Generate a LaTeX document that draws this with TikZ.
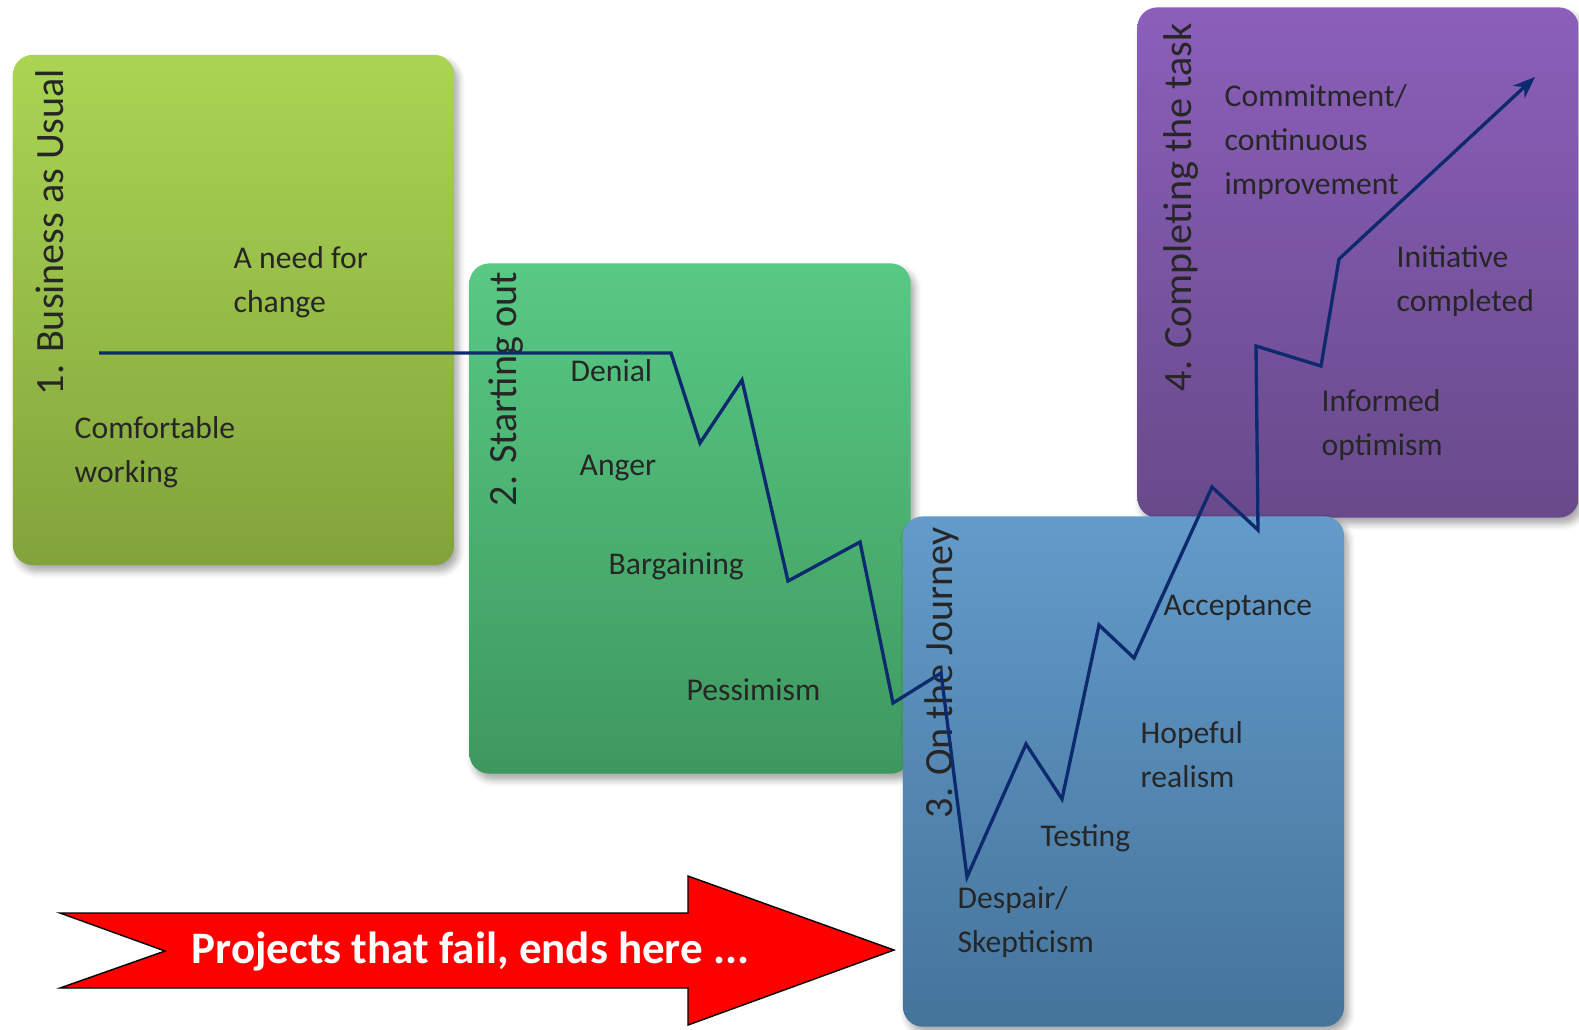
\documentclass[tikz,border=0pt]{standalone}
\usepackage{fontspec}
\setmainfont{Carlito}
\usetikzlibrary{arrows.meta,shadows.blur}
\definecolor{usualtop}{RGB}{170,213,83}
\definecolor{usualbot}{RGB}{130,163,60}
\definecolor{starttop}{RGB}{88,201,132}
\definecolor{startbot}{RGB}{62,152,94}
\definecolor{journeytop}{RGB}{99,155,202}
\definecolor{journeybot}{RGB}{69,116,155}
\definecolor{tasktop}{RGB}{139,95,186}
\definecolor{taskbot}{RGB}{104,74,139}
\definecolor{curveblue}{RGB}{14,42,110}
\definecolor{failred}{RGB}{255,0,0}
\tikzset{
phase/.style={
  rounded corners=0.2cm,
  minimum width=4.41cm,
  minimum height=5.1cm,
  inner sep=0pt,
  blur shadow={shadow xshift=0.04cm,shadow yshift=-0.06cm,shadow blur steps=6,shadow opacity=35}
  },
phases/.style 2 args={
  phase,
  top color=#1,
  bottom color=#2
  },
title/.style={
  rotate=90,
  anchor=base west,
  inner sep=0pt,
  text=black!85,
  font=\fontsize{11.4}{13}\selectfont
  },
mood/.style={
  anchor=base west,
  inner sep=0pt,
  align=left,
  text=black!85,
  font=\fontsize{9}{12.5}\selectfont
  }
}

\begin{document}
\begin{tikzpicture}[x=0.01cm,y=-0.01cm,>={Stealth[length=0.22cm,width=0.17cm]}]
  \useasboundingbox (0,0) rectangle (1579,1029);
  \tikzstyle{curve} = [draw=curveblue,line width=0.95pt]
  % the four stages
  \node[phases={usualtop}{usualbot}] (usual) at (233.5,310) {};
  \node[phases={starttop}{startbot}] (start) at (690,518.5) {};
  \node[phases={tasktop}{taskbot}] (task) at (1358,262.5) {};
  \node[phases={journeytop}{journeybot}] (journey) at (1123.5,771.5) {};
  % banner
  \fill[failred,draw=black,line width=0.4pt] (60,913) -- (688,913) -- (688,876) -- (894,950)
    -- (688,1025) -- (688,988) -- (60,988) -- (165,951) -- cycle;
  \node[anchor=base west,inner sep=0pt,text=white,font=\bfseries\fontsize{12.8}{14}\selectfont]
    (fail) at (191,963) {Projects that fail, ends here ...};
  % stage titles
  \node[title] (usualtitle) at (64,396) {1. Business as Usual};
  \node[title] (starttitle) at (516,507) {2. Starting out};
  \node[title] (journeytitle) at (952,819) {3. On the Journey};
  \node[title] (tasktitle) at (1191,392) {4. Completing the task};
  % moods (base = last line)
  \node[mood] (need) at (233,312) {A need for\\change};
  \node[mood] (comfort) at (74,482) {Comfortable\\working};
  \node[mood] (denial) at (570,381) {Denial};
  \node[mood] (anger) at (579,475) {Anger};
  \node[mood] (bargain) at (608,574) {Bargaining};
  \node[mood] (pessim) at (686,700) {Pessimism};
  \node[mood] (despair) at (957,952) {Despair/\\Skepticism};
  \node[mood] (testing) at (1040,846) {Testing};
  \node[mood] (hopeful) at (1140,787) {Hopeful\\realism};
  \node[mood] (accept) at (1163,615) {Acceptance};
  \node[mood] (informed) at (1321,455) {Informed\\optimism};
  \node[mood] (initiative) at (1396,311) {Initiative\\completed};
  \node[mood] (commit) at (1224,194) {Commitment/\\continuous\\improvement};
  % change curve
  \foreach \x/\y [count=\i from 0] in {99/353,671/353,700/443,742/380,788/581,860/542,
    893/703,941/673,967/877,1026/744,1062/799,1099/625,1134/658,1212/487,1258/530,
    1256/346,1321/366,1339/259,1535/77}
    \coordinate (z\i) at (\x,\y);
  \draw[curve,->] (z0) \foreach \i in {1,...,18}{ -- (z\i)};
\end{tikzpicture}
\end{document}
